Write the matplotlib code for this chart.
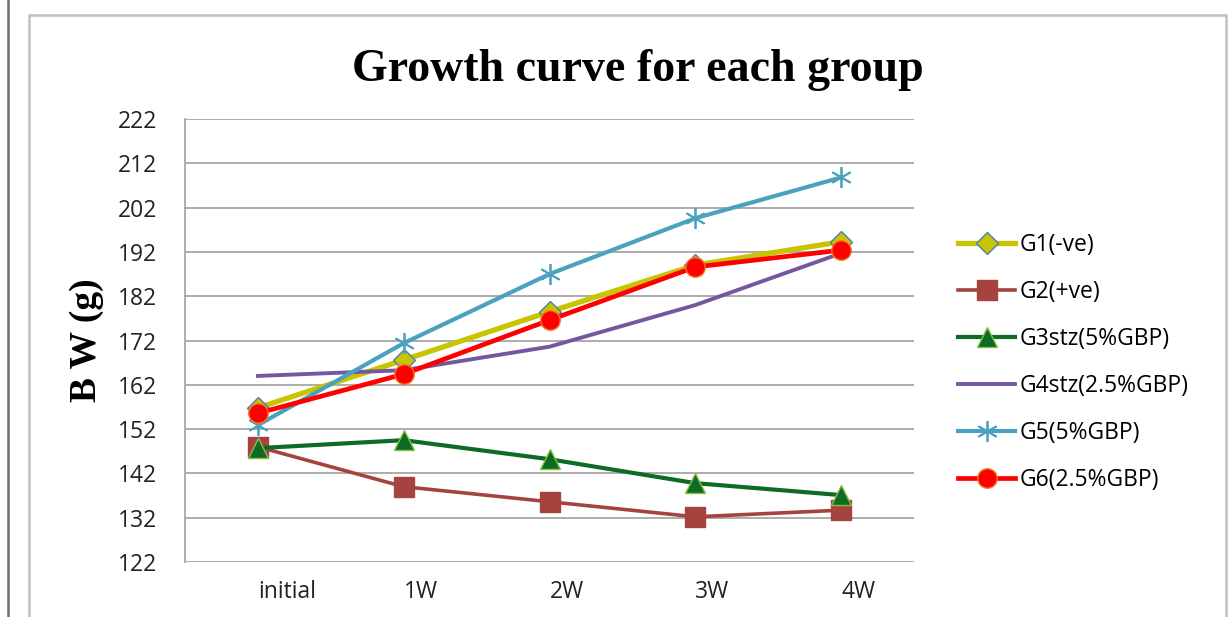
import matplotlib.pyplot as plt
from matplotlib.lines import Line2D
import numpy as np

# body weight (g) per group over the weeks
weeks = ["initial", "1W", "2W", "3W", "4W"]
g1 = [156.8, 167.6, 178.5, 189.0, 194.3]
g2 = [148.0, 139.0, 135.6, 132.2, 133.7]
g3 = [147.7, 149.5, 145.2, 139.8, 137.1]
g4 = [164.0, 165.3, 170.6, 180.0, 191.7]
g5 = [152.9, 171.4, 187.0, 199.6, 208.8]
g6 = [155.6, 164.4, 176.6, 188.6, 192.4]
names = ["G1(-ve)", "G2(+ve)", "G3stz(5%GBP)", "G4stz(2.5%GBP)", "G5(5%GBP)", "G6(2.5%GBP)"]
yticks = list(range(122, 223, 10))

W, H = 1232, 617
fig = plt.figure(figsize=(W / 100, H / 100), dpi=100)
ax = fig.add_axes([185 / W, 1 - 562 / H, (914 - 185) / W, (562 - 119) / H])

x = np.arange(len(weeks))
ax.plot(x, g1, color="#c8c400", lw=3.8, marker="D", ms=11, mfc="#c8c400", mec="#4a7ebb", mew=1.0, label=names[0], zorder=3)
ax.plot(x, g2, color="#a5433f", lw=2.6, marker="s", ms=15, mfc="#a5433f", mec="#a5433f", label=names[1], zorder=3)
ax.plot(x, g3, color="#0c6b25", lw=3.0, marker="^", ms=14, mfc="#0c6b25", mec="#8cbf40", mew=1.0, label=names[2], zorder=3)
ax.plot(x, g4, color="#7557a0", lw=2.8, label=names[3], zorder=3)
ax.plot(x, g5, color="#4aa2c0", lw=3.0, marker=(6, 2, 0), ms=15, mec="#4aa2c0", mew=1.3, label=names[4], zorder=3)
ax.plot(x, g6, color="#ff0000", lw=3.4, marker="o", ms=14, mfc="#ff0000", mec="#f07a20", mew=1.0, label=names[5], zorder=4)

ax.set_xlim(-0.5, len(weeks) - 0.5)
ax.set_ylim(122, 222)
ax.set_yticks(yticks)
ax.set_yticklabels([str(v) for v in yticks], fontsize=16.5, family="Open Sans", color="#222222")
ax.grid(axis="y", color="#a6a6a6", lw=1.3)
ax.set_axisbelow(True)
for s in ["top", "right", "bottom"]:
    ax.spines[s].set_visible(False)
ax.spines["left"].set_color("#a6a6a6")
ax.spines["left"].set_linewidth(1.3)
ax.tick_params(axis="y", length=0, pad=20)
ax.tick_params(axis="x", length=0)
ax.set_xticks(x)
ax.set_xticklabels(weeks, fontsize=16.5, family="Open Sans", color="#222222", ha="left")
ax.tick_params(axis="x", pad=13)

ax.set_ylabel("B W (g)", fontsize=27, family="Liberation Serif", fontweight="bold", labelpad=10)
fig.text(638 / W, 1 - 70 / H, "Growth curve for each group", fontsize=33, family="Liberation Serif",
         fontweight="bold", ha="center", va="center")

fig.legend(loc="upper left", bbox_to_anchor=(949 / W, 1 - 224 / H), frameon=False,
           prop={"family": "Open Sans", "size": 16.5}, handlelength=2.5, handletextpad=0.2,
           labelspacing=1.0, borderaxespad=0)

# outer frame
fig.add_artist(Line2D([8 / W, 8 / W], [0, 1], color="#6e6e6e", lw=1.8))
fig.add_artist(Line2D([29 / W, 29 / W, 1226 / W, 1226 / W], [0, 1 - 15 / H, 1 - 15 / H, 0], color="#bfbfbf", lw=1.8))

fig.savefig("out.png", dpi=100)
